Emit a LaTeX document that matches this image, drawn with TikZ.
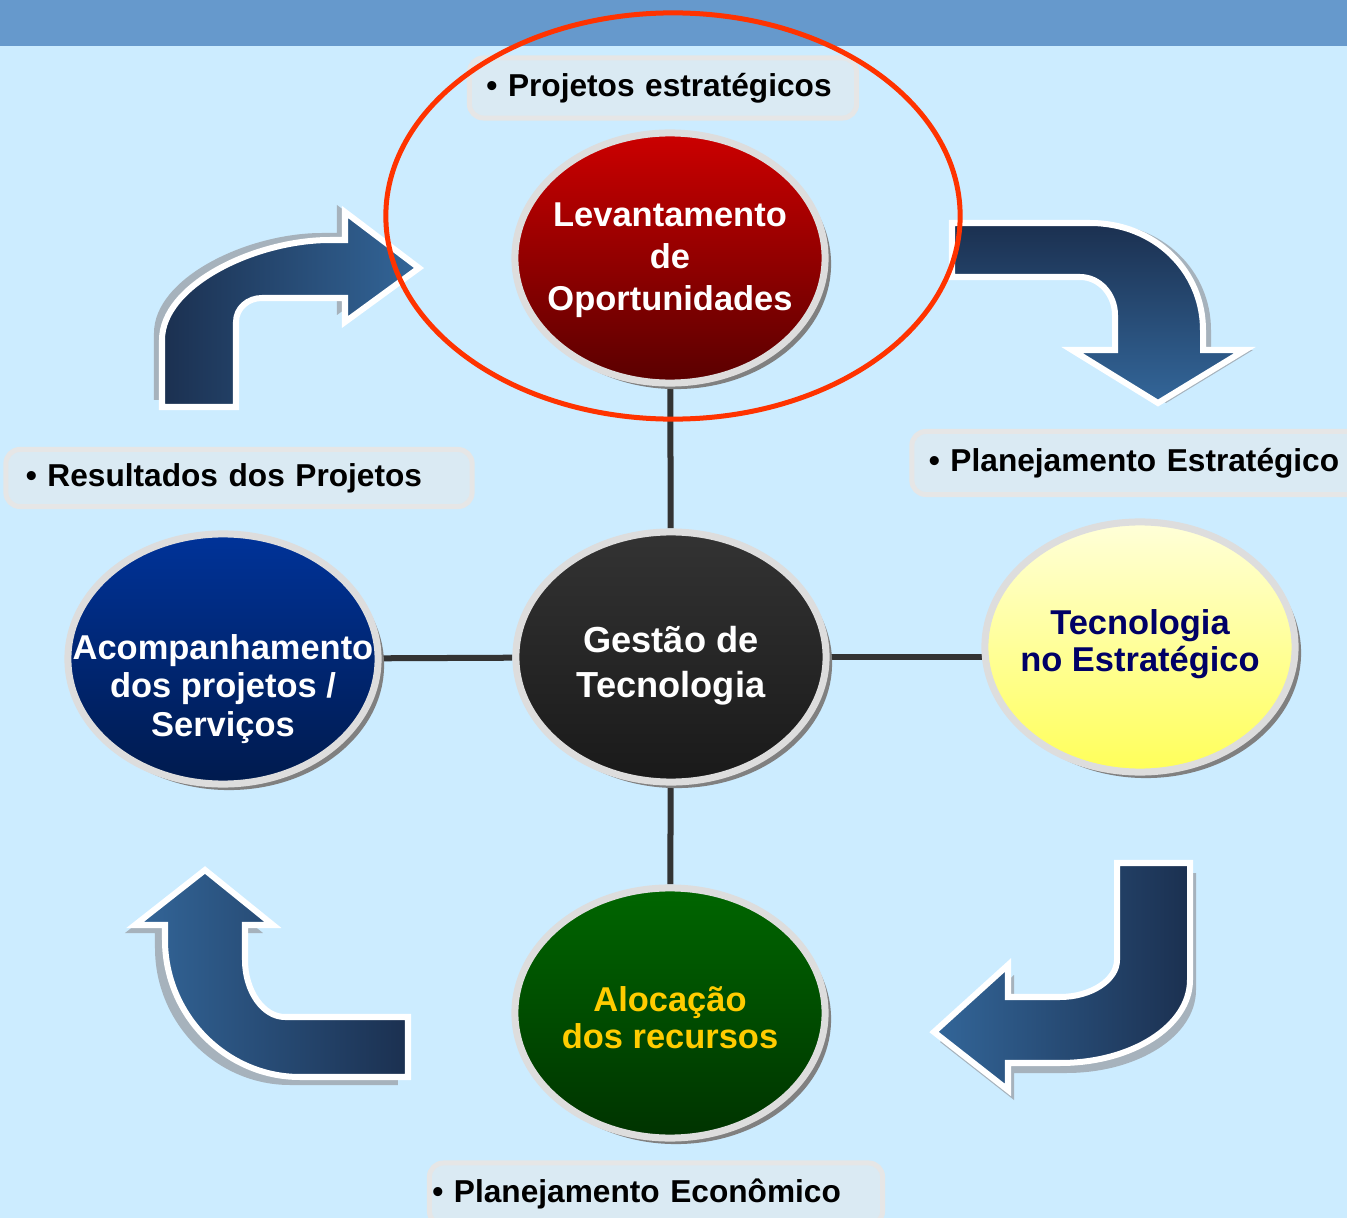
\documentclass[tikz,border=0pt]{standalone}
\usepackage{fontspec}
\setmainfont{Liberation Sans}
\usepackage{tikz}
\usetikzlibrary{shapes,shadows,backgrounds}

\definecolor{paleblue}{HTML}{CCECFF}
\definecolor{bandblue}{HTML}{6699CC}
\definecolor{arrowdark}{HTML}{1B3050}
\definecolor{arrowlight}{HTML}{336699}
\definecolor{shadowgray}{HTML}{A6B2BC}
\definecolor{tagfill}{HTML}{DAEAF3}
\definecolor{tagline}{HTML}{E6E6E6}
\definecolor{spokegray}{HTML}{333333}
\definecolor{ringred}{HTML}{FF3300}
\definecolor{navytext}{HTML}{000066}
\definecolor{goldtext}{HTML}{FFCC00}
\definecolor{rimgray}{HTML}{DDDDDD}
\definecolor{rimshadow}{HTML}{808080}
\definecolor{bluetop}{HTML}{003399}
\definecolor{bluebot}{HTML}{001A4D}

\newcommand{\elltext}[2][-0.11cm]{\raisebox{#1}[0pt][0pt]{\makebox[0pt]{\begin{tabular}{@{}c@{}}#2\end{tabular}}}}

\tikzset{
	bubble/.style={shape=ellipse,draw=rimgray,line width=0.07cm,inner sep=0pt,
		minimum width=3.1cm,minimum height=2.5cm,
		drop shadow={shadow xshift=0.06cm,shadow yshift=-0.06cm,fill=rimshadow,opacity=1},
		font=\bfseries\fontsize{9.8}{11.9}\selectfont},
	tag/.style={draw=tagline,fill=tagfill,line width=0.05cm,rounded corners=4pt,
		inner xsep=0.17cm,inner ysep=0pt,align=left,font=\bfseries\fontsize{9}{11}\selectfont},
	spoke/.style={draw=spokegray,line width=0.06cm},
	bentarrow/.style={draw=white,line width=0.06cm,line join=miter},
	ring/.style={draw=ringred,line width=0.05cm}
}

\begin{document}
\begin{tikzpicture}[x=0.01cm,y=-0.01cm]
		\useasboundingbox (0,0) rectangle (1347,1218);
		\begin{scope}[on background layer]
			\fill[paleblue] (0,0) rectangle (1347,1218);
			\fill[bandblue] (0,0) rectangle (1347,46);
		\end{scope}
		% bent arrows
		\draw[bentarrow,left color=arrowdark,right color=arrowlight,
			drop shadow={shadow xshift=-0.08cm,shadow yshift=0.07cm,fill=shadowgray,opacity=1}]
			(162,407) -- (162,340) .. controls (162,285) and (255,240) .. (330,240) -- (345,240)
			-- (345,212) -- (419,268) -- (345,322) -- (345,298) -- (262,298)
			.. controls (248,298) and (236,308) .. (236,322) -- (236,407) -- cycle;
		\draw[bentarrow,top color=arrowdark,bottom color=arrowlight,
			drop shadow={shadow xshift=0.08cm,shadow yshift=0cm,fill=shadowgray,opacity=1}]
			(952,223) -- (1090,223) .. controls (1155,223) and (1203,271) .. (1203,330) -- (1203,350)
			-- (1245,350) -- (1158,403) -- (1072,350) -- (1115,350) -- (1115,315)
			.. controls (1115,295) and (1100,277) .. (1080,277) -- (952,277) -- cycle;
		\draw[bentarrow,left color=arrowlight,right color=arrowdark,
			drop shadow={shadow xshift=0.06cm,shadow yshift=-0.1cm,fill=shadowgray,opacity=1}]
			(1117,863) -- (1190,863) -- (1190,980) .. controls (1190,1026) and (1132,1063) .. (1060,1063)
			-- (1008,1063) -- (1008,1090) -- (934,1032) -- (1008,965) -- (1008,997) -- (1060,997)
			.. controls (1091,997) and (1117,980) .. (1117,960) -- cycle;
		\draw[bentarrow,left color=arrowlight,right color=arrowdark,
			drop shadow={shadow xshift=-0.1cm,shadow yshift=-0.08cm,fill=shadowgray,opacity=1}]
			(408,1077) -- (300,1077) .. controls (226,1077) and (165,1015) .. (165,940) -- (165,925)
			-- (135,925) -- (205,870) -- (273,925) -- (245,925) -- (245,960)
			.. controls (245,991) and (263,1017) .. (285,1017) -- (408,1017) -- cycle;

		\node(oport) at (670,258) [bubble,top color=red!80!black,bottom color=red!35!black,text=white] {\elltext{Levantamento\\de\\Oportunidades}};
		\node(gestao) at (671,657) [bubble,top color=black!80,bottom color=black!90,text=white,font=\bfseries\fontsize{10.3}{12.8}\selectfont] {\elltext[-0.18cm]{Gestão de\\Tecnologia}};
		\node(tecno) at (1140,647) [bubble,top color=yellow!15!white,bottom color=yellow!65!white,text=navytext,font=\bfseries\fontsize{9.8}{10.6}\selectfont] {\elltext[-0.07cm]{Tecnologia\\no Estratégico}};
		\node(acomp) at (223,659) [bubble,top color=bluetop,bottom color=bluebot,text=white,font=\bfseries\fontsize{9.8}{11}\selectfont] {\elltext[-0.40cm]{Acompanhamento\\dos projetos /\\Serviços}};
		\node(aloc) at (670,1013) [bubble,top color=green!40!black,bottom color=green!20!black,text=goldtext,font=\bfseries\fontsize{9.8}{10.6}\selectfont] {\elltext[-0.18cm]{Alocação\\dos recursos}};
		\begin{scope}[on background layer]
			\draw[spoke] (oport) -- (gestao);
			\draw[spoke] (gestao) -- (aloc);
			\draw[spoke] (acomp) -- (gestao);
			\draw[spoke] (gestao) -- (gestao -| tecno);
		\end{scope}

		\node(projetos) at (663,88) [tag,text width=3.53cm,minimum height=0.6cm] {• Projetos estratégicos};
		\node(resultados) at (239,478) [tag,text width=4.26cm,inner xsep=0.2cm,minimum height=0.57cm] {• Resultados dos Projetos};
		\node(estrategico) at (1137,463) [tag,text width=4.16cm,minimum height=0.63cm] {• Planejamento Estratégico};
		\node(economico) at (656,1194) [tag,text width=4.47cm,inner xsep=0.03cm,minimum height=0.62cm] {• Planejamento Econômico};

		\draw[ring] (673,216) ellipse [x radius=2.87cm,y radius=2.03cm];
\end{tikzpicture}
\end{document}
